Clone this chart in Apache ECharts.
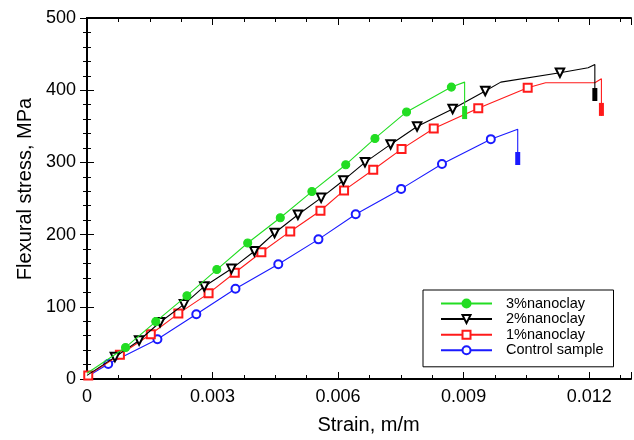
<!DOCTYPE html>
<html><head><meta charset="utf-8">
<script src="https://cdn.jsdelivr.net/npm/echarts@6/dist/echarts.min.js"></script>
<style>html,body{margin:0;padding:0;background:#fff}#c{width:634px;height:440px}</style>
</head><body><div id="c"></div>
<script>
const seriesNames = ['3%nanoclay', '2%nanoclay', '1%nanoclay', 'Control sample'];
const xTickLabels = ['0', '0.003', '0.006', '0.009', '0.012'];
const yTickLabels = ['0', '100', '200', '300', '400', '500'];

// 3% nanoclay: marker points, other line vertices, failure point
const nc3Marks = [[0.000921,43.7],[0.001643,79.5],[0.002388,115.4],[0.003102,151.6],[0.00384,188.4],[0.004619,223.3],[0.005374,259.6],[0.006183,296.8],[0.006881,333.2],[0.007636,369.9],[0.008707,404.3]];
const nc3Path = [[0,8],[0.009024,411.2]];
const nc3Break = [0.009024,360];

// 2% nanoclay
const nc2Marks = [[0.000667,30.3],[0.001245,53.3],[0.001745,78.6],[0.002317,103.4],[0.002802,128.2],[0.003452,152.6],[0.004,176.9],[0.004483,202.2],[0.00504,227.5],[0.005595,250.9],[0.006126,275],[0.006643,300.1],[0.007255,324.9],[0.007888,349.7],[0.008738,374],[0.009517,398.8],[0.011302,424.2]];
const nc2Path = [[0,5],[0.009888,411.2],[0.011976,431.1],[0.012136,435.6]];
const nc2Break = [0.012136,385];

// 1% nanoclay
const nc1Marks = [[0.00003,5],[0.000786,33.5],[0.001524,62],[0.002183,90.6],[0.002905,118.6],[0.003531,147.1],[0.004167,175.5],[0.004857,204.4],[0.005579,233],[0.006143,261.2],[0.00684,289.9],[0.007517,318.4],[0.008286,347],[0.00935,375],[0.010531,403.5]];
const nc1Path = [[0,1],[0.01096,410.4],[0.012136,410.4],[0.012293,415.9]];
const nc1Break = [0.012293,364.4];

// Control sample
const ctrlMarks = [[0.000507,20.7],[0.001683,55.1],[0.002612,89.6],[0.003548,125],[0.004571,159],[0.005531,193.4],[0.006421,228.2],[0.007507,263.3],[0.008483,297.8],[0.00965,332.2]];
const ctrlPath = [[0,3],[0.010293,346]];
const ctrlBreak = [0.010293,296.4];

const FONT = 'Liberation Sans, Arial, Helvetica, sans-serif';

function buildData(marks, path, brk) {
  const items = path.map(p => ({ value: p, symbol: 'none' }))
    .concat(marks.map(p => ({ value: p })));
  items.sort((a, b) => a.value[0] - b.value[0]);
  items.push({ value: brk, symbol: 'rect', symbolSize: [5, 13], symbolRotate: 0, symbolOffset: [0, '-50%'] });
  return items;
}

const styles = [
  { color: '#22dd22', symbol: 'circle', size: 8, rotate: 0 },
  { color: '#000000', symbol: 'emptyTriangle', size: 8.5, rotate: 180 },
  { color: '#ff1a1a', symbol: 'emptyRect', size: 8, rotate: 0 },
  { color: '#1a1aff', symbol: 'emptyCircle', size: 8, rotate: 0 }
];
const datasets = [
  buildData(nc3Marks, nc3Path, nc3Break),
  buildData(nc2Marks, nc2Path, nc2Break),
  buildData(nc1Marks, nc1Path, nc1Break),
  buildData(ctrlMarks, ctrlPath, ctrlBreak)
];

const series = seriesNames.map((name, i) => {
  const s = styles[i];
  const data = datasets[i].map(d => {
    if (d.symbol === 'rect') {
      return Object.assign({}, d, { itemStyle: { color: s.color, borderColor: s.color, borderWidth: 0 } });
    }
    return d;
  });
  return {
    name, type: 'line', data,
    symbol: s.symbol, symbolSize: s.size, symbolRotate: s.rotate,
    showAllSymbol: true, animation: false,
    lineStyle: { color: s.color, width: 1.1 },
    itemStyle: { color: s.color, borderColor: s.color, borderWidth: 1.1 },
    z: 10 - i
  };
});

const xFmt = v => { const k = v / 0.003; const r = Math.round(k); return Math.abs(k - r) < 1e-6 ? (xTickLabels[r] || '') : ''; };
const yFmt = v => { const k = Math.round(v / 100); return Math.abs(v - k * 100) < 1e-6 ? (yTickLabels[k] || '') : ''; };

const grid = { left: 87, right: 2, top: 18, bottom: 59 };
const axisLineStyle = { color: '#000', width: 2 };
const xBase = { type: 'value', min: 0, max: 0.013, splitLine: { show: false } };

const option = {
  backgroundColor: '#fff',
  animation: false,
  textStyle: { fontFamily: FONT },
  grid,
  legend: {
    orient: 'vertical', left: 423, top: 290,
    padding: [6, 10, 9, 17],
    borderColor: '#000', borderWidth: 1, backgroundColor: '#fff',
    itemWidth: 51, itemHeight: 10, itemGap: 0.6,
    textStyle: { fontSize: 14.5, color: '#000', fontFamily: FONT, lineHeight: 15, padding: [0, 0, 0, 9] },
    data: seriesNames
  },
  xAxis: [
    Object.assign({}, xBase, {
      position: 'bottom', interval: 0.00075,
      axisLine: { lineStyle: axisLineStyle },
      axisTick: { inside: true, length: 4, lineStyle: { color: '#000' } },
      axisLabel: { formatter: xFmt, fontSize: 18, color: '#000', margin: 9, fontFamily: FONT },
      name: 'Strain, m/m', nameLocation: 'middle', nameGap: 36,
      nameTextStyle: { fontSize: 20, color: '#000', fontFamily: FONT, padding: [0, 0, 0, 19] }
    }),
    Object.assign({}, xBase, {
      position: 'bottom', interval: 0.003,
      axisLine: { show: false },
      axisTick: { inside: true, length: 7, lineStyle: { color: '#000' } },
      axisLabel: { show: false }
    }),
    Object.assign({}, xBase, {
      position: 'top', interval: 0.00075,
      axisLine: { lineStyle: axisLineStyle },
      axisTick: { inside: true, length: 4, lineStyle: { color: '#000' } },
      axisLabel: { show: false }
    }),
    Object.assign({}, xBase, {
      position: 'top', interval: 0.003,
      axisLine: { show: false },
      axisTick: { inside: true, length: 7, lineStyle: { color: '#000' } },
      axisLabel: { show: false }
    })
  ],
  yAxis: [
    {
      type: 'value', min: 0, max: 500, interval: 100, position: 'left',
      axisLine: { lineStyle: axisLineStyle },
      axisTick: { inside: true, length: 7, lineStyle: { color: '#000' } },
      minorTick: { show: true, splitNumber: 5, length: 4, lineStyle: { color: '#000' } },
      splitLine: { show: false },
      axisLabel: { formatter: yFmt, fontSize: 18, color: '#000', margin: 11, fontFamily: FONT },
      name: 'Flexural stress, MPa', nameLocation: 'middle', nameGap: 50,
      nameTextStyle: { fontSize: 20, color: '#000', fontFamily: FONT, padding: [0, 0, 0, 19] }
    },
    {
      type: 'value', min: 0, max: 500, interval: 100, position: 'right',
      axisLine: { lineStyle: axisLineStyle },
      axisTick: { inside: true, length: 7, lineStyle: { color: '#000' } },
      minorTick: { show: true, splitNumber: 5, length: 4, lineStyle: { color: '#000' } },
      splitLine: { show: false },
      axisLabel: { show: false }
    }
  ],
  series
};

const chart = echarts.init(document.getElementById('c'), null, { renderer: 'canvas' });
chart.setOption(option);
</script>
</body></html>
